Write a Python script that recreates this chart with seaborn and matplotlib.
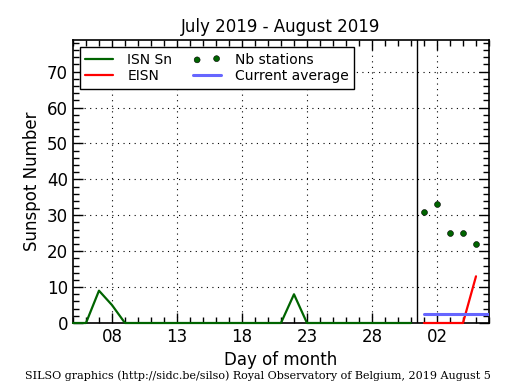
import matplotlib
matplotlib.use('Agg')
import matplotlib.pyplot as plt
import matplotlib.dates as mdates
import seaborn as sns
import pandas as pd

# =============================================================================
# Data
# =============================================================================
isn_days = pd.date_range('2019-07-05', '2019-07-31', freq='D')
isn_values = [0, 0, 9, 5, 0, 0, 0, 0, 0, 0, 0, 0, 0, 0, 0, 0, 0, 8, 0,
              0, 0, 0, 0, 0, 0, 0, 0]

eisn_days = pd.date_range('2019-08-01', '2019-08-05', freq='D')
eisn_values = [0, 0, 0, 0, 13]
nb_stations = [31, 33, 25, 25, 22]

avg_days = pd.to_datetime(['2019-08-01', '2019-08-06'])
avg_values = [2.6, 2.6]

month_split = pd.Timestamp('2019-07-31 12:00')
tick_days = pd.date_range('2019-07-08', periods=6, freq='5D')

# =============================================================================
# Plot
# =============================================================================
sns.set_style('ticks')
plt.rcParams['font.family'] = ['DejaVu Sans']
plt.rcParams['xtick.direction'] = 'in'
plt.rcParams['ytick.direction'] = 'in'
plt.rcParams['text.color'] = 'black'
plt.rcParams['axes.labelcolor'] = 'black'
plt.rcParams['xtick.color'] = 'black'
plt.rcParams['ytick.color'] = 'black'
plt.rcParams['axes.edgecolor'] = 'black'

fig = plt.figure(figsize=(5.15, 3.9), dpi=100)
ax = fig.add_axes([0.1417, 0.1718, 0.8078, 0.7256])

isn_df = pd.DataFrame({'day': isn_days, 'value': isn_values})
eisn_df = pd.DataFrame({'day': eisn_days, 'value': eisn_values, 'nb': nb_stations})
avg_df = pd.DataFrame({'day': avg_days, 'value': avg_values})

sns.lineplot(data=isn_df, x='day', y='value', color='#006400', lw=1.6, ax=ax,
             label='ISN Sn', clip_on=False, zorder=4)
sns.lineplot(data=eisn_df, x='day', y='value', color='red', lw=1.6, ax=ax,
             label='EISN', clip_on=False, zorder=4)
sns.scatterplot(data=eisn_df, x='day', y='nb', color='#006400', s=18, edgecolor='black',
                linewidth=0.4, ax=ax, label='Nb stations', zorder=5)
sns.lineplot(data=avg_df, x='day', y='value', color='#6666ff', lw=2.2, ax=ax,
             label='Current average', zorder=4)
ax.axvline(month_split, color='black', lw=1)

ax.set_xlim(pd.Timestamp('2019-07-05'), pd.Timestamp('2019-08-06'))
ax.set_ylim(0, 78.8)
ax.set_xticks(tick_days)
ax.xaxis.set_major_formatter(mdates.DateFormatter('%d'))
ax.xaxis.set_minor_locator(mdates.DayLocator())
ax.set_yticks(range(0, 80, 10))
ax.set_yticks(range(0, 79, 2), minor=True)
ax.tick_params(which='both', top=True, right=True, labelsize=12, width=1)
ax.tick_params(which='major', length=7)
ax.tick_params(which='minor', length=4)
ax.grid(True, which='major', color='black', linestyle=(0, (1, 4)), lw=0.8)
for s in ax.spines.values():
    s.set_linewidth(1.2)

ax.set_title('July 2019 - August 2019', fontsize=12)
ax.set_xlabel('Day of month', fontsize=12)
ax.set_ylabel('Sunspot Number', fontsize=12)

handles, labels = ax.get_legend_handles_labels()
leg = ax.legend(handles, labels, ncol=2, loc='upper left', fontsize=10, scatterpoints=2,
                fancybox=False, edgecolor='black', framealpha=1, borderaxespad=0.5,
                columnspacing=1.5, handletextpad=1.0, labelspacing=0.2)
leg.get_frame().set_linewidth(1.0)

fig.text(0.5, 0.036, 'SILSO graphics (http://sidc.be/silso) Royal Observatory of Belgium, 2019 August 5',
         ha='center', va='center', fontsize=8, family='DejaVu Serif')

plt.savefig('out.png', dpi=100)
